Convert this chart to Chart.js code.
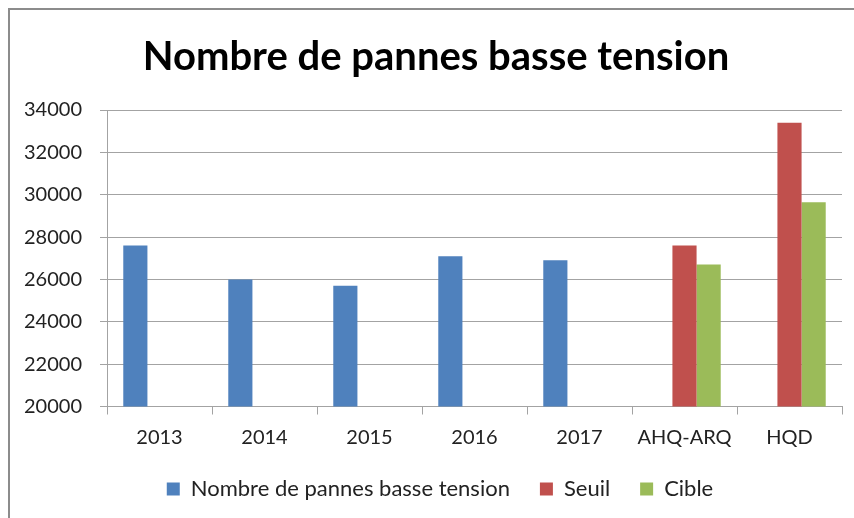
<!DOCTYPE html>
<html lang="fr">
<head>
    <meta charset="utf-8" />
    <title>Nombre de pannes basse tension</title>
    <style>
        body { margin: 0; background: #fff; overflow: hidden; }
        #cadre { position: absolute; left: 8px; top: 8px; width: 900px; height: 600px; border: 2px solid #8c8c8c; }
        #zone { position: absolute; left: 0; top: 0; width: 854px; height: 518px; }
    </style>
    <script src="https://cdn.jsdelivr.net/npm/chart.js"></script>
</head>
<body>
    <div id="cadre"></div>
    <div id="zone"><canvas id="pannesChart"></canvas></div>
    <script>
        // Données
        const categories = ['2013', '2014', '2015', '2016', '2017', 'AHQ-ARQ', 'HQD'];
        const pannes = [27600, 26000, 25700, 27100, 26900, null, null];
        const seuil = [null, null, null, null, null, 27600, 33400];
        const cible = [null, null, null, null, null, 26700, 29650];
        const yTicks = [20000, 22000, 24000, 26000, 28000, 30000, 32000, 34000];

        const police = 'Lato, Carlito, Calibri, sans-serif';
        const grille = '#a3a3a3';

        // décale titre et légende pour les centrer sur le cadre, comme dans Excel
        const recentrer = {
            id: 'recentrer',
            afterLayout: (chart) => {
                chart.titleBlock.left += 30;
                chart.legend.left += 38;
            }
        };

        const config = {
            type: 'bar',
            data: {
                labels: categories,
                datasets: [
                    { label: 'Nombre de pannes basse tension', data: pannes, backgroundColor: '#4F81BD' },
                    { label: 'Seuil', data: seuil, backgroundColor: '#C0504D' },
                    { label: 'Cible', data: cible, backgroundColor: '#9BBB59' }
                ]
            },
            options: {
                responsive: true,
                maintainAspectRatio: false,
                animation: false,
                devicePixelRatio: 1,
                layout: { padding: { left: 0, right: 12, top: 0, bottom: 8 } },
                datasets: { bar: { categoryPercentage: 0.69, barPercentage: 1.0 } },
                plugins: {
                    title: {
                        display: true,
                        text: 'Nombre de pannes basse tension',
                        color: '#000',
                        font: { family: police, size: 40, weight: 'bold' },
                        padding: { top: 33, bottom: 29 }
                    },
                    legend: {
                        position: 'bottom',
                        labels: {
                            color: '#222',
                            font: { family: police, size: 22 },
                            boxWidth: 13,
                            boxHeight: 13,
                            padding: 30
                        }
                    },
                    tooltip: { enabled: false }
                },
                scales: {
                    x: {
                        afterFit: (scale) => { scale.height = 41.5; },
                        grid: { drawOnChartArea: false, drawTicks: true, tickLength: 8, color: grille, offset: true },
                        border: { color: grille, width: 1 },
                        ticks: { color: '#222', font: { family: police, size: 20 }, padding: 11, maxRotation: 0 }
                    },
                    y: {
                        min: 20000,
                        max: 34000,
                        afterBuildTicks: (scale) => { scale.ticks = yTicks.map(v => ({ value: v })); },
                        afterFit: (scale) => { scale.width = 107; },
                        grid: { color: grille, tickLength: 7 },
                        border: { color: grille, width: 1 },
                        ticks: { color: '#222', font: { family: police, size: 20 }, padding: 18, callback: (v) => String(v) }
                    }
                }
            },
            plugins: [recentrer]
        };

        const pannesChart = new Chart(document.getElementById('pannesChart'), config);
    </script>
</body>
</html>
